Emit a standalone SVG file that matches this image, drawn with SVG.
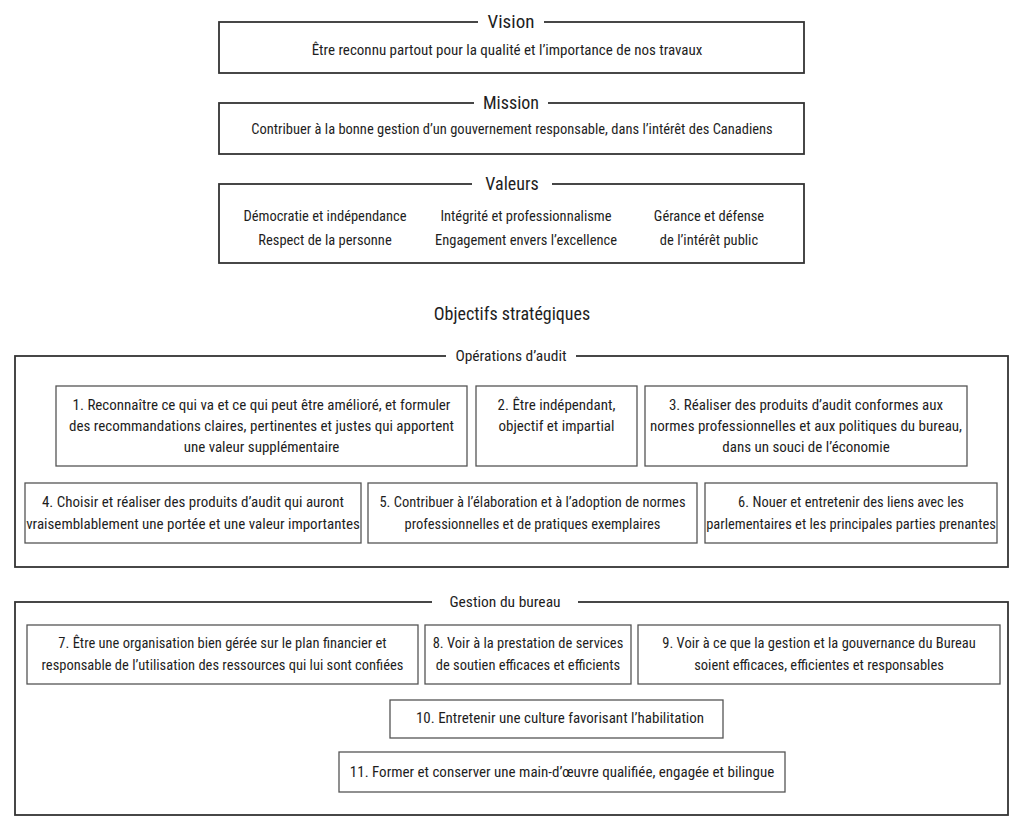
<svg xmlns="http://www.w3.org/2000/svg" width="1024" height="830" viewBox="0 0 1024 830">
<style>
text{font-family:"Liberation Sans Narrow","Roboto Condensed","DejaVu Sans Condensed",sans-serif;fill:#1e1e1e;text-anchor:middle}
.t{font-size:14.5px}
.v{font-size:15px}
.h{font-size:18px}
.s{font-size:15.5px}
.outer{fill:none;stroke:#333;stroke-width:1.8}
.inner{fill:#fff;stroke:#555;stroke-width:1.3}
.bg{fill:#fff}
</style>
<rect width="1024" height="830" fill="#fff"/>
<g id="vision">
<rect class="outer" x="219" y="22" width="585" height="51"/>
<rect class="bg" x="478" y="10" width="66" height="22"/>
<text class="h" x="511" y="28" style="font-size:19px">Vision</text>
<text class="v" x="507" y="55">Être reconnu partout pour la qualité et l’importance de nos travaux</text>
</g>
<g id="mission">
<rect class="outer" x="219" y="103" width="585" height="51"/>
<rect class="bg" x="474" y="91" width="74" height="22"/>
<text class="h" x="511" y="109">Mission</text>
<text class="t" x="512" y="134">Contribuer à la bonne gestion d’un gouvernement responsable, dans l’intérêt des Canadiens</text>
</g>
<g id="valeurs">
<rect class="outer" x="219" y="184" width="585" height="79"/>
<rect class="bg" x="472" y="172" width="80" height="22"/>
<text class="h" x="512" y="190">Valeurs</text>
<text class="t" x="325" y="221">Démocratie et indépendance</text>
<text class="t" x="325" y="245">Respect de la personne</text>
<text class="t" x="526" y="221">Intégrité et professionnalisme</text>
<text class="t" x="526" y="245">Engagement envers l’excellence</text>
<text class="t" x="709" y="221">Gérance et défense</text>
<text class="t" x="709" y="245">de l’intérêt public</text>
</g>
<g id="objectifs">
<text class="h" x="512" y="320">Objectifs stratégiques</text>
</g>
<g id="operations">
<rect class="outer" x="15" y="356" width="993" height="211"/>
<rect class="bg" x="446" y="345" width="130" height="22"/>
<text class="s" x="511" y="361">Opérations d’audit</text>
</g>
<g id="obj1">
<rect class="inner" x="56" y="386" width="411" height="80"/>
<text class="v" x="261.5" y="410">1. Reconnaître ce qui va et ce qui peut être amélioré, et formuler</text>
<text class="v" x="261.5" y="431">des recommandations claires, pertinentes et justes qui apportent</text>
<text class="v" x="261.5" y="452">une valeur supplémentaire</text>
</g>
<g id="obj2">
<rect class="inner" x="476" y="386" width="161" height="80"/>
<text class="v" x="556.5" y="410">2. Être indépendant,</text>
<text class="v" x="556.5" y="431">objectif et impartial</text>
</g>
<g id="obj3">
<rect class="inner" x="645" y="386" width="322" height="80"/>
<text class="v" x="806" y="410">3. Réaliser des produits d’audit conformes aux</text>
<text class="v" x="806" y="431">normes professionnelles et aux politiques du bureau,</text>
<text class="v" x="806" y="452">dans un souci de l’économie</text>
</g>
<g id="obj4">
<rect class="inner" x="25" y="483" width="336" height="60"/>
<text class="v" x="193" y="507">4. Choisir et réaliser des produits d’audit qui auront</text>
<text class="v" x="193" y="529">vraisemblablement une portée et une valeur importantes</text>
</g>
<g id="obj5">
<rect class="inner" x="368" y="483" width="329" height="60"/>
<text class="t" x="532.5" y="507">5. Contribuer à l’élaboration et à l’adoption de normes</text>
<text class="t" x="532.5" y="529">professionnelles et de pratiques exemplaires</text>
</g>
<g id="obj6">
<rect class="inner" x="705" y="483" width="292" height="60"/>
<text class="t" x="851" y="507">6. Nouer et entretenir des liens avec les</text>
<text class="t" x="851" y="529">parlementaires et les principales parties prenantes</text>
</g>
<g id="gestion">
<rect class="outer" x="15" y="602" width="993" height="213"/>
<rect class="bg" x="432" y="591" width="146" height="22"/>
<text class="s" x="505" y="607">Gestion du bureau</text>
</g>
<g id="obj7">
<rect class="inner" x="27" y="625" width="391" height="59"/>
<text class="t" x="222.5" y="648">7. Être une organisation bien gérée sur le plan financier et</text>
<text class="t" x="222.5" y="670">responsable de l’utilisation des ressources qui lui sont confiées</text>
</g>
<g id="obj8">
<rect class="inner" x="425" y="625" width="206" height="59"/>
<text class="t" x="528" y="648">8. Voir à la prestation de services</text>
<text class="t" x="528" y="670">de soutien efficaces et efficients</text>
</g>
<g id="obj9">
<rect class="inner" x="638" y="625" width="362" height="59"/>
<text class="t" x="819" y="648">9. Voir à ce que la gestion et la gouvernance du Bureau</text>
<text class="t" x="819" y="670">soient efficaces, efficientes et responsables</text>
</g>
<g id="obj10">
<rect class="inner" x="390" y="700" width="333" height="38"/>
<text class="v" x="560" y="723">10. Entretenir une culture favorisant l’habilitation</text>
</g>
<g id="obj11">
<rect class="inner" x="339" y="752" width="446" height="40"/>
<text class="v" x="562" y="777">11. Former et conserver une main-d’œuvre qualifiée, engagée et bilingue</text>
</g>
<g id="connectors"></g>
</svg>
